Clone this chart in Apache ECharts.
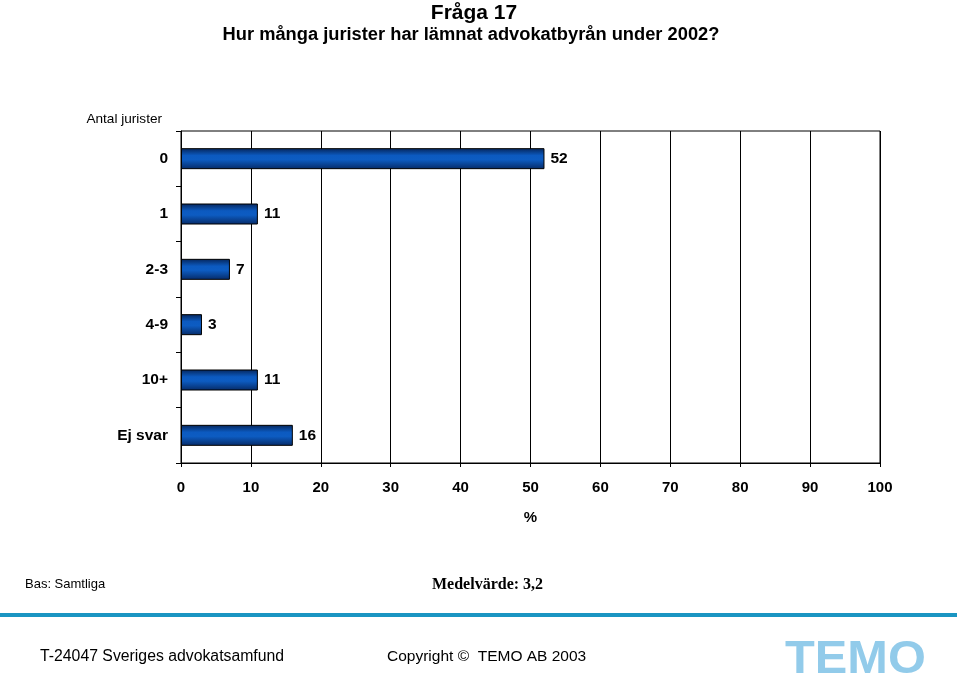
<!DOCTYPE html>
<html><head><meta charset="utf-8">
<script src="https://cdn.jsdelivr.net/npm/echarts@6/dist/echarts.min.js"></script>
<style>html,body{margin:0;padding:0;background:#fff}#c{width:960px;height:692px}</style>
</head><body><div id="c"></div>
<script>
const categories = ['0', '1', '2-3', '4-9', '10+', 'Ej svar'];
const values = [52, 11, 7, 3, 11, 16];
const xTicks = [0, 10, 20, 30, 40, 50, 60, 70, 80, 90, 100];

const chart = echarts.init(document.getElementById('c'));
const F = '"Liberation Sans", Arial, sans-serif';
chart.setOption({
  backgroundColor: '#fff',
  animation: false,
  title: [
    {text: 'Fråga 17', left: 469, top: -2, textAlign: 'center',
     textStyle: {fontFamily: F, fontSize: 21, fontWeight: 'bold', color: '#000'}},
    {text: 'Hur många jurister har lämnat advokatbyrån under 2002?', left: 466, top: 21, textAlign: 'center',
     textStyle: {fontFamily: F, fontSize: 18.3, fontWeight: 'bold', color: '#000'}}
  ],
  grid: {left: 181, right: 80, top: 131, bottom: 229, show: true, borderColor: '#000', borderWidth: 1, backgroundColor: 'transparent'},
  xAxis: {
    type: 'value', min: 0, max: 100, interval: 10,
    name: '%', nameLocation: 'middle', nameGap: 47,
    nameTextStyle: {fontFamily: F, fontSize: 15, fontWeight: 'bold', color: '#000'},
    axisLine: {show: true, lineStyle: {color: '#000', width: 1}},
    axisTick: {show: true, length: 4, lineStyle: {color: '#000'}},
    axisLabel: {margin: 17, fontFamily: F, fontSize: 15, fontWeight: 'bold', color: '#000',
      formatter: v => xTicks.includes(v) ? String(v) : ''},
    splitLine: {show: true, lineStyle: {color: '#000', width: 1}}
  },
  yAxis: {
    type: 'category', data: categories, inverse: true,
    name: 'Antal jurister', nameLocation: 'start', nameGap: 5,
    nameTextStyle: {fontFamily: F, fontSize: 13.6, color: '#000', align: 'right', padding: [0, 19, 0, 0]},
    axisLine: {show: true, lineStyle: {color: '#000', width: 1}},
    axisTick: {show: true, length: 5, lineStyle: {color: '#000'}},
    axisLabel: {margin: 13, fontFamily: F, fontSize: 15.5, fontWeight: 'bold', color: '#000'}
  },
  series: [{
    type: 'bar', data: values, barWidth: 21,
    itemStyle: {
      color: new echarts.graphic.LinearGradient(0, 0, 0, 1, [
        {offset: 0, color: '#05255a'},
        {offset: 0.35, color: '#0c5ac0'},
        {offset: 0.55, color: '#0d5cc2'},
        {offset: 1, color: '#062a66'}
      ]),
      borderColor: '#000', borderWidth: 1
    },
    label: {show: true, position: 'right', distance: 6, fontFamily: F, fontSize: 15.5, fontWeight: 'bold', color: '#000'}
  }],
  graphic: [
    {type: 'text', left: 25, top: 578, style: {text: 'Bas: Samtliga', font: '13px "Liberation Sans Narrow", "Liberation Sans", Arial', fill: '#000'}},
    {type: 'text', left: 432, top: 577, style: {text: 'Medelvärde: 3,2', font: 'bold 16px "Liberation Serif", "Times New Roman", serif', fill: '#000'}},
    {type: 'rect', shape: {x: 0, y: 613, width: 957, height: 4}, style: {fill: '#1a95c2'}},
    {type: 'text', left: 40, top: 649, style: {text: 'T-24047 Sveriges advokatsamfund', font: '15.8px "Liberation Sans", Arial', fill: '#000'}},
    {type: 'text', left: 387, top: 649, style: {text: 'Copyright ©  TEMO AB 2003', font: '15.5px "Liberation Sans", Arial', fill: '#000'}},
    {type: 'text', x: 785, y: 637, scaleX: 1.06, style: {text: 'TEMO', font: 'bold 46px "Liberation Sans", Arial', fill: '#4aa8dc', opacity: 0.6}}
  ]
});
</script></body></html>
